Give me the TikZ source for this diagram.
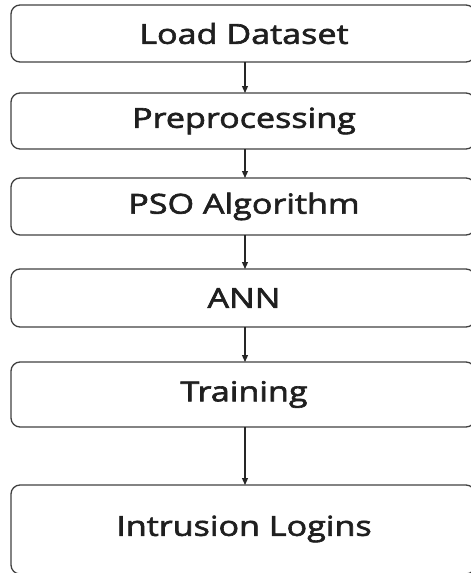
\documentclass[tikz,border=0pt]{standalone}
\usepackage{fontspec}
\setmainfont{Open Sans}
\newfontfamily\stagefont{Open Sans}[FakeStretch=1.24,FakeBold=2.3]
\usetikzlibrary{arrows.meta}
\begin{document}
\begin{tikzpicture}[x=1pt,y=-1pt,
  stage/.style={draw=black!75, line width=1.3pt, rounded corners=9pt},
  lbl/.style={font=\stagefont\fontsize{27.5}{30}\selectfont, text=black!88},
  flow/.style={draw=black!85, line width=1.2pt, -{Triangle[length=7pt,width=6pt]}}]
\useasboundingbox (0,0) rectangle (471,573);
% stages of the pipeline
\draw[stage] (11,5) rectangle (475,62);
\node[lbl] (s1) at (244,33.5) {Load Dataset};
\draw[stage] (11,93) rectangle (475,149);
\node[lbl] (s2) at (244,121) {Preprocessing};
\draw[stage] (11,178) rectangle (475,235);
\node[lbl] (s3) at (244,206.5) {PSO Algorithm};
\draw[stage] (11,269) rectangle (475,327);
\node[lbl] (s4) at (244,298) {ANN};
\draw[stage] (11,362) rectangle (475,427);
\node[lbl] (s5) at (244,394.5) {Training};
\draw[stage] (11,485) rectangle (475,574);
\node[lbl] (s6) at (244,529) {Intrusion Logins};
% box edges used as arrow anchors
\coordinate (b1) at (245,62);  \coordinate (t2) at (245,93);
\coordinate (b2) at (245,149); \coordinate (t3) at (245,178);
\coordinate (b3) at (245,235); \coordinate (t4) at (245,269);
\coordinate (b4) at (245,327); \coordinate (t5) at (245,362);
\coordinate (b5) at (245,427); \coordinate (t6) at (245,485);
\draw[flow] (b1) -- (t2);
\draw[flow] (b2) -- (t3);
\draw[flow] (b3) -- (t4);
\draw[flow] (b4) -- (t5);
\draw[flow] (b5) -- (t6);
\end{tikzpicture}
\end{document}
